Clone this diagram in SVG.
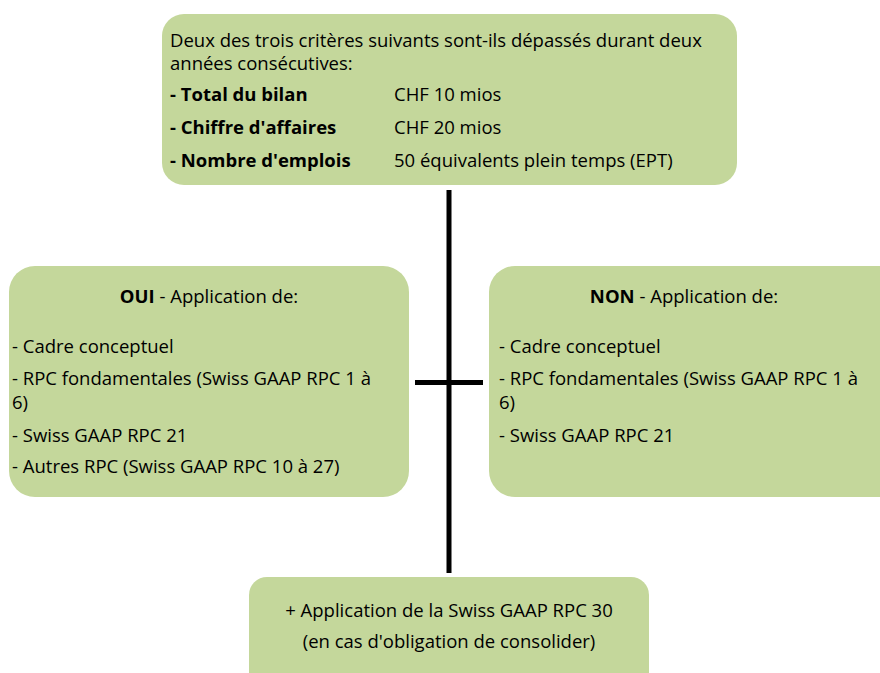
<svg xmlns="http://www.w3.org/2000/svg" width="880" height="673" viewBox="0 0 880 673">
<style>
.box{fill:#c4d79b;}
text{font-family:"Open Sans","Liberation Sans",Arial,sans-serif;font-size:18.5px;fill:#000;}
.b{font-weight:bold;}
.c{text-anchor:middle;}
.ln{stroke:#000;stroke-width:5;fill:none;}
</style>
<rect width="880" height="673" fill="#fff"/>
<g id="connectors">
<line class="ln" x1="449" y1="190" x2="449" y2="573"/>
<line class="ln" x1="415" y1="382.5" x2="483" y2="382.5"/>
</g>
<g id="top">
<rect class="box" x="162" y="14" width="575" height="171" rx="22"/>
<text x="170" y="47">Deux des trois critères suivants sont-ils dépassés durant deux</text>
<text x="170" y="70">années consécutives:</text>
<text x="170" y="101" class="b">- Total du bilan</text><text x="394" y="101">CHF 10 mios</text>
<text x="170" y="134" class="b">- Chiffre d'affaires</text><text x="394" y="134">CHF 20 mios</text>
<text x="170" y="167" class="b">- Nombre d'emplois</text><text x="394" y="167">50 équivalents plein temps (EPT)</text>
</g>
<g id="oui">
<rect class="box" x="9" y="266" width="400" height="231" rx="26"/>
<text x="209" y="303" class="c"><tspan class="b">OUI</tspan> - Application de:</text>
<text x="12" y="353">- Cadre conceptuel</text>
<text x="12" y="385">- RPC fondamentales (Swiss GAAP RPC 1 à</text>
<text x="12" y="409">6)</text>
<text x="12" y="442">- Swiss GAAP RPC 21</text>
<text x="12" y="473">- Autres RPC (Swiss GAAP RPC 10 à 27)</text>
</g>
<g id="non">
<rect class="box" x="489" y="266" width="420" height="231" rx="26"/>
<text x="684" y="303" class="c"><tspan class="b">NON</tspan> - Application de:</text>
<text x="499" y="353">- Cadre conceptuel</text>
<text x="499" y="385">- RPC fondamentales (Swiss GAAP RPC 1 à</text>
<text x="499" y="409">6)</text>
<text x="499" y="442">- Swiss GAAP RPC 21</text>
</g>
<g id="bottom">
<rect class="box" x="249" y="577" width="400" height="120" rx="18"/>
<text x="449" y="617" class="c">+ Application de la Swiss GAAP RPC 30</text>
<text x="449" y="648" class="c">(en cas d'obligation de consolider)</text>
</g>
</svg>
